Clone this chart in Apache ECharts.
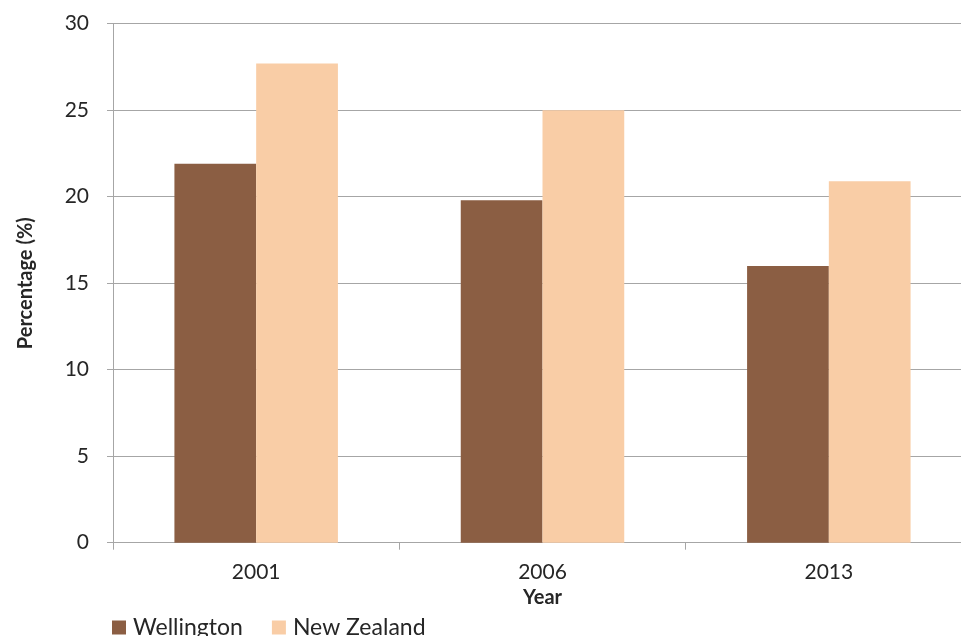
<!DOCTYPE html>
<html>
<head>
<meta charset="utf-8">
<script src="https://cdn.jsdelivr.net/npm/echarts@6/dist/echarts.min.js"></script>
<style>
  html, body { margin: 0; padding: 0; background: #fff; }
  #chart { width: 961px; height: 636px; }
</style>
</head>
<body>
<div id="chart"></div>
<script>
// Share of population (%) by census year
const years = ['2001', '2006', '2013'];
const wellington = [21.9, 19.8, 16.0];
const newZealand = [27.7, 25.0, 20.9];
const yTicks = { min: 0, max: 30, interval: 5 };

const FONT = 'Lato';
const TEXT = '#262626';
const AXIS = '#A6A6A6';

const chart = echarts.init(document.getElementById('chart'), null, { renderer: 'canvas' });

chart.setOption({
  animation: false,
  backgroundColor: '#ffffff',
  textStyle: { fontFamily: FONT },
  // the plot runs slightly past the right edge of the canvas
  grid: {
    left: 113, width: 859, top: 23.7, bottom: 93.3,
    containLabel: false, outerBoundsMode: 'none'
  },
  legend: {
    left: 112,
    top: 616,
    padding: 0,
    itemWidth: 14,
    itemHeight: 14,
    itemGap: 29,
    icon: 'rect',
    textStyle: { fontFamily: FONT, fontSize: 23, color: TEXT, padding: [0, 0, 0, 2] },
    data: ['Wellington', 'New Zealand']
  },
  xAxis: {
    type: 'category',
    data: years,
    name: 'Year',
    nameLocation: 'middle',
    nameGap: 41,
    nameTextStyle: { fontFamily: FONT, fontSize: 20, fontWeight: 'bold', color: TEXT },
    axisLine: { show: true, lineStyle: { color: AXIS, width: 1 } },
    axisTick: { show: true, length: 7, lineStyle: { color: AXIS, width: 1 } },
    axisLabel: { margin: 19, fontFamily: FONT, fontSize: 21, color: TEXT },
    splitLine: { show: false }
  },
  yAxis: {
    type: 'value',
    min: yTicks.min,
    max: yTicks.max,
    interval: yTicks.interval,
    name: 'Percentage (%)',
    nameLocation: 'middle',
    nameGap: 77,
    nameTextStyle: { fontFamily: FONT, fontSize: 20, fontWeight: 'bold', color: TEXT },
    axisLine: { show: true, lineStyle: { color: AXIS, width: 1 } },
    axisTick: { show: true, length: 6, lineStyle: { color: AXIS, width: 1 } },
    axisLabel: { margin: 24, fontFamily: FONT, fontSize: 21, color: TEXT },
    splitLine: { show: true, lineStyle: { color: AXIS, width: 1.2 } }
  },
  series: [
    {
      name: 'Wellington',
      type: 'bar',
      data: wellington,
      barGap: '0%',
      barCategoryGap: '42.9%',
      itemStyle: { color: '#8B5E43' }
    },
    {
      name: 'New Zealand',
      type: 'bar',
      data: newZealand,
      barGap: '0%',
      barCategoryGap: '42.9%',
      itemStyle: { color: '#F9CDA6' }
    }
  ]
});
</script>
</body>
</html>
